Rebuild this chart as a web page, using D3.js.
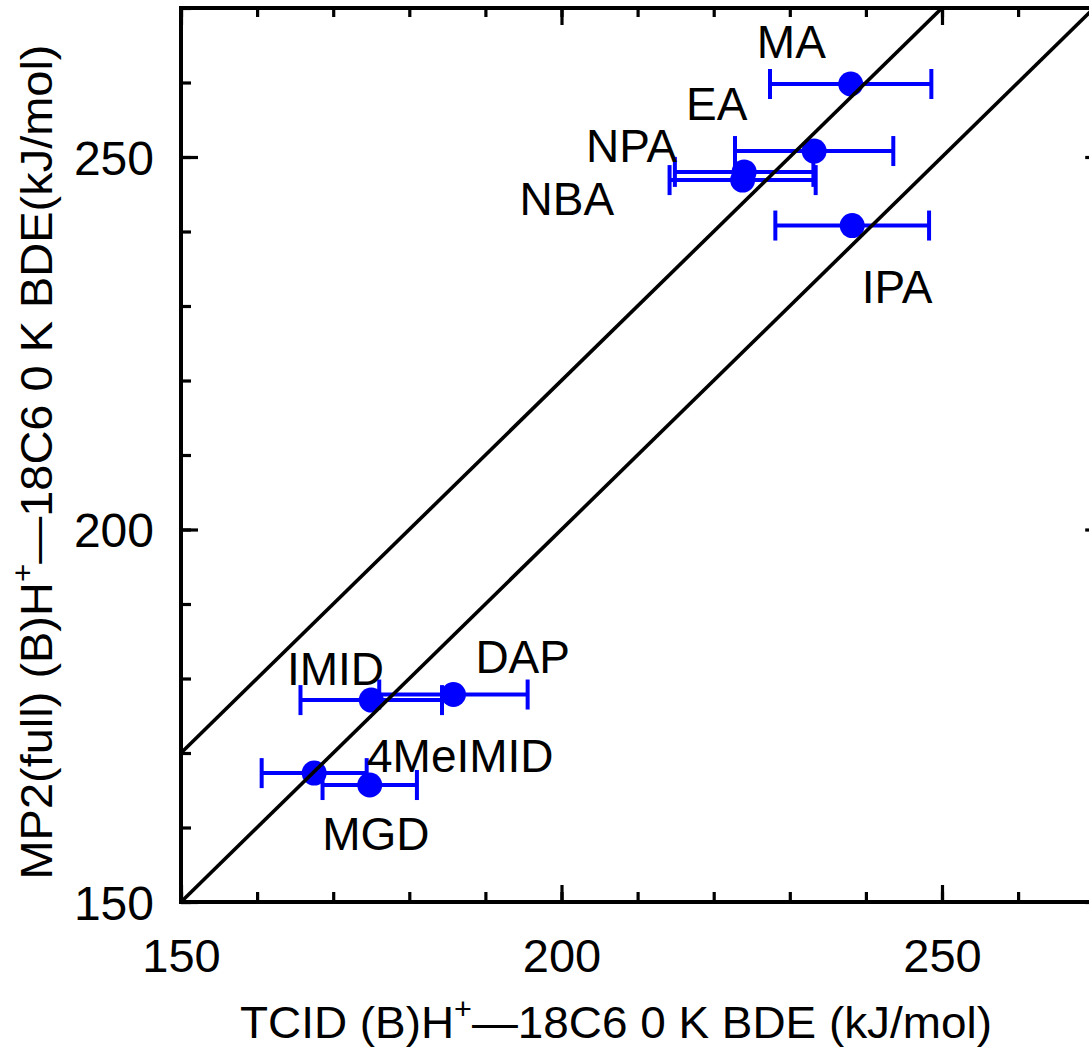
<!DOCTYPE html>
<html>
<head>
<meta charset="utf-8">
<script src="https://cdn.jsdelivr.net/npm/d3@7"></script>
<style>
  html, body { margin: 0; padding: 0; background: #fff; }
  svg { display: block; }
  text { font-family: "Liberation Sans", Arial, Helvetica, sans-serif; fill: #000; }
</style>
</head>
<body>
<svg id="chart" width="1089" height="1055"></svg>
<script>
// ---- data ----
const names    = ["MA", "EA", "NPA", "NBA", "IPA", "IMID", "DAP", "4MeIMID", "MGD"];
const tcid     = [238.0, 233.2, 224.0, 223.8, 238.2, 175.0, 185.8, 167.5, 174.8];
const tcidErr  = [10.6, 10.4, 9.1, 9.6, 10.1, 9.3, 9.75, 6.9, 6.2];
const mp2      = [259.8, 250.8, 248.0, 246.9, 240.8, 177.1, 177.85, 167.3, 165.7];
// label anchor points (data units)
const labelX   = [230.2, 220.4, 209.2, 200.7, 244.1, 170.3, 194.9, 186.7, 175.6];
const labelY   = [263.25, 255.0, 249.3, 242.2, 230.4, 179.1, 180.7, 167.45, 157.0];
// reference lines y = x + offset
const lineOffsets = [0, 20];
const xDomain = [150, 270];
const yDomain = [150, 270];
const majorTicks = [150, 200, 250];
const minorTicks = d3.range(150, 271, 10);

// ---- layout ----
const svg = d3.select("#chart");
const L = 181, R = 1094.2, T = 8, B = 902;
const x = d3.scaleLinear().domain(xDomain).range([L, R]);
const y = d3.scaleLinear().domain(yDomain).range([B, T]);

svg.append("defs").append("clipPath").attr("id", "clip")
  .append("rect").attr("x", L).attr("y", T).attr("width", R - L).attr("height", B - T);

const blue = "#0000ff";
const data = names.map((n, i) => ({ n, x: tcid[i], e: tcidErr[i], y: mp2[i], lx: labelX[i], ly: labelY[i] }));

// error bars
const eb = svg.append("g").attr("stroke", blue).attr("stroke-width", 4).attr("fill", "none");
data.forEach(d => {
  eb.append("line").attr("x1", x(d.x - d.e)).attr("x2", x(d.x + d.e)).attr("y1", y(d.y)).attr("y2", y(d.y));
  [d.x - d.e, d.x + d.e].forEach(v => {
    eb.append("line").attr("x1", x(v)).attr("x2", x(v)).attr("y1", y(d.y) - 15).attr("y2", y(d.y) + 15);
  });
});
// points
svg.append("g").selectAll("circle").data(data).join("circle")
  .attr("cx", d => x(d.x)).attr("cy", d => y(d.y)).attr("r", 12.5).attr("fill", blue);

// reference lines
const lg = svg.append("g").attr("clip-path", "url(#clip)");
lineOffsets.forEach(o => {
  lg.append("line")
    .attr("x1", x(xDomain[0])).attr("y1", y(xDomain[0] + o))
    .attr("x2", x(xDomain[1])).attr("y2", y(xDomain[1] + o))
    .attr("stroke", "#000").attr("stroke-width", 3.6);
});

// labels
svg.append("g").selectAll("text").data(data).join("text")
  .attr("x", d => x(d.lx)).attr("y", d => y(d.ly))
  .attr("text-anchor", "middle").attr("font-size", 46).text(d => d.n);

// ---- axes ----
function styleAxis(g) {
  g.select(".domain").remove();
  g.selectAll(".tick line").attr("stroke", "#000").attr("stroke-width", 3.2);
}
const fmt = () => "";
// bottom
svg.append("g").attr("transform", `translate(0,${B})`)
  .call(d3.axisBottom(x).tickValues(minorTicks).tickSize(-10).tickFormat(fmt)).call(styleAxis);
svg.append("g").attr("transform", `translate(0,${B})`)
  .call(d3.axisBottom(x).tickValues(majorTicks).tickSize(-17).tickPadding(52).tickFormat(d3.format("d")))
  .call(styleAxis)
  .call(g => g.selectAll("text").attr("font-size", 47).attr("dy", 0).attr("y", 70));
// top
svg.append("g").attr("transform", `translate(0,${T})`)
  .call(d3.axisTop(x).tickValues(minorTicks).tickSize(-9).tickFormat(fmt)).call(styleAxis);
svg.append("g").attr("transform", `translate(0,${T})`)
  .call(d3.axisTop(x).tickValues(majorTicks).tickSize(-17).tickFormat(fmt)).call(styleAxis);
// left
svg.append("g").attr("transform", `translate(${L},0)`)
  .call(d3.axisLeft(y).tickValues(minorTicks).tickSize(-10).tickFormat(fmt)).call(styleAxis);
svg.append("g").attr("transform", `translate(${L},0)`)
  .call(d3.axisLeft(y).tickValues(majorTicks).tickSize(-17).tickFormat(d3.format("d")))
  .call(styleAxis)
  .call(g => g.selectAll("text").attr("font-size", 48).attr("x", -27).attr("dy", "0.36em"));
// right
svg.append("g").attr("transform", `translate(${R},0)`)
  .call(d3.axisRight(y).tickValues(minorTicks).tickSize(-5).tickFormat(fmt)).call(styleAxis);
svg.append("g").attr("transform", `translate(${R},0)`)
  .call(d3.axisRight(y).tickValues(majorTicks).tickSize(-9).tickFormat(fmt)).call(styleAxis);

// frame
svg.append("rect").attr("x", L).attr("y", T).attr("width", R - L).attr("height", B - T)
  .attr("fill", "none").attr("stroke", "#000").attr("stroke-width", 4);

// axis titles
const xt = svg.append("text").attr("x", 616).attr("y", 1038).attr("text-anchor", "middle")
  .attr("font-size", 45).attr("textLength", 752).attr("lengthAdjust", "spacingAndGlyphs");
xt.append("tspan").text("TCID (B)H");
xt.append("tspan").attr("dy", -19).attr("font-size", 30).text("+");
xt.append("tspan").attr("dy", 19).text("\u201418C6 0 K BDE (kJ/mol)");

const yt = svg.append("text").attr("transform", "translate(52,462) rotate(-90)")
  .attr("text-anchor", "middle").attr("font-size", 45)
  .attr("textLength", 835).attr("lengthAdjust", "spacingAndGlyphs");
yt.append("tspan").text("MP2(full) (B)H");
yt.append("tspan").attr("dy", -19).attr("font-size", 30).text("+");
yt.append("tspan").attr("dy", 19).text("\u201418C6 0 K BDE(kJ/mol)");
</script>
</body>
</html>
